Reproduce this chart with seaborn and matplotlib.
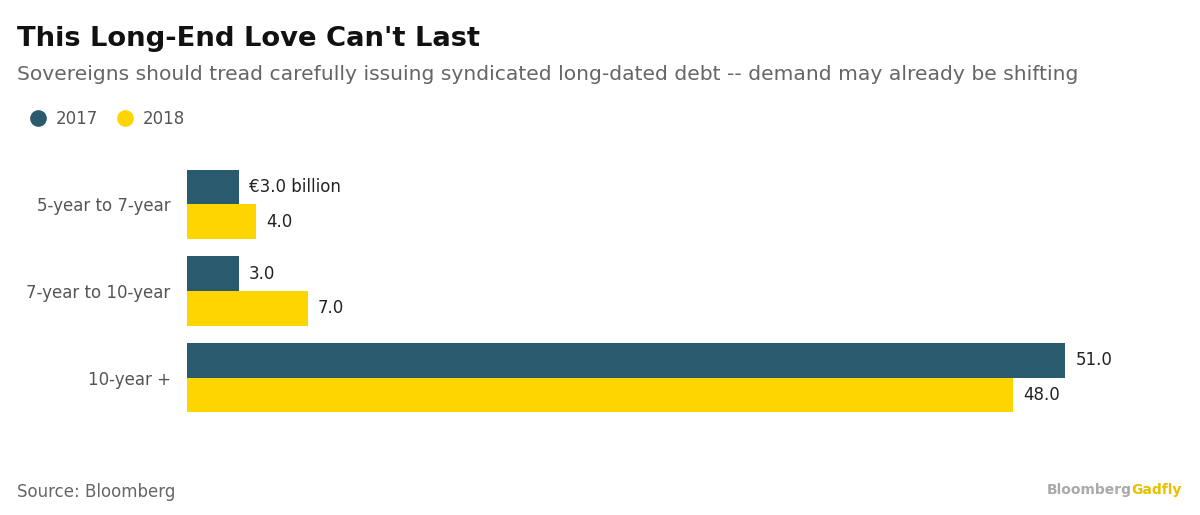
import matplotlib
matplotlib.use("Agg")
import matplotlib.pyplot as plt
import seaborn as sns
import pandas as pd
from matplotlib.lines import Line2D

categories = ["5-year to 7-year", "7-year to 10-year", "10-year +"]
years = ["2017", "2018"]
values_2017 = [3.0, 3.0, 51.0]
values_2018 = [4.0, 7.0, 48.0]
labels_2017 = ["€3.0 billion", "3.0", "51.0"]
labels_2018 = ["4.0", "7.0", "48.0"]

colors = {"2017": "#2a5a6d", "2018": "#ffd500"}

df = pd.DataFrame({
    "cat": categories * 2,
    "year": ["2017"] * 3 + ["2018"] * 3,
    "val": values_2017 + values_2018,
})

fig = plt.figure(figsize=(12, 5.15), dpi=100)
ax = fig.add_axes([0.156, 0.1825, 0.794, 0.505])
sns.barplot(data=df, y="cat", x="val", hue="year", orient="h", palette=colors,
            width=0.8, ax=ax, legend=False, saturation=1)
xmax = 51 * (1140 - 187) / 878
ax.set_xlim(0, xmax)
ax.set_ylim(2.5, -0.5)
for s in ax.spines.values():
    s.set_visible(False)
ax.set_xticks([])
ax.set_xlabel("")
ax.set_ylabel("")
ax.tick_params(axis="y", length=0, pad=12, labelsize=12, labelcolor="#555555")

for i, (v, lab) in enumerate(zip(values_2017, labels_2017)):
    ax.text(v + 0.6, i - 0.2, lab, va="center", ha="left", fontsize=12, color="#222222")
for i, (v, lab) in enumerate(zip(values_2018, labels_2018)):
    ax.text(v + 0.6, i + 0.2, lab, va="center", ha="left", fontsize=12, color="#222222")

fig.text(0.014, 0.91, "This Long-End Love Can't Last", fontsize=19.7, fontweight="bold", color="#111111", va="baseline")
fig.text(0.014, 0.845, "Sovereigns should tread carefully issuing syndicated long-dated debt -- demand may already be shifting",
         fontsize=14.6, color="#666666", va="baseline")

handles = [Line2D([], [], marker="o", linestyle="", markersize=11, color=colors[y]) for y in years]
fig.legend(handles, years, loc="upper left", bbox_to_anchor=(0.005, 0.815), ncol=2, frameon=False,
           fontsize=12, handletextpad=0.1, columnspacing=0.6, labelcolor="#555555")

fig.text(0.014, 0.035, "Source: Bloomberg", fontsize=12, color="#666666")
fig.text(0.985, 0.04, "Gadfly", fontsize=10, color="#e8c000", fontweight="bold", ha="right")
fig.text(0.943, 0.04, "Bloomberg", fontsize=10, color="#aaaaaa", fontweight="bold", ha="right")

fig.savefig("out.png", dpi=100)
